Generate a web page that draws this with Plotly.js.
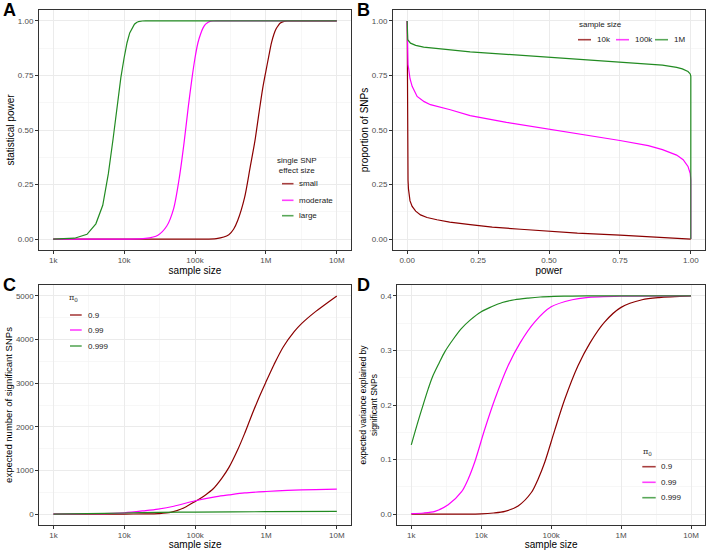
<!DOCTYPE html>
<html>
<head>
<meta charset="utf-8">
<script src="https://cdn.plot.ly/plotly-3.0.1.min.js"></script>
<style>html,body{margin:0;padding:0;background:#fff;}#chart{width:707px;height:550px;}</style>
</head>
<body>
<div id="chart"></div>
<script>
// ---------- shared labels / colours ----------
const sizeTickVals = [1e3, 1e4, 1e5, 1e6, 1e7];
const sizeTickText = ['1k', '10k', '100k', '1M', '10M'];
const seriesColors = ['#8B0000', '#FF00FF', '#228B22'];
const effectLabels = ['small', 'moderate', 'large'];
const sampleLabels = ['10k', '100k', '1M'];
const pi0Labels = ['0.9', '0.99', '0.999'];

// ---------- Panel A: statistical power vs sample size ----------
const powerN_small = [1000, 10000, 100000, 200000, 300000, 350000, 400000, 500000, 600000, 700000, 800000, 900000, 1000000, 1100000, 1200000, 1300000, 1400000, 1500000, 1600000, 1800000, 2000000, 5000000, 10000000];
const power_small  = [0, 0, 0, 0.002, 0.02, 0.045, 0.085, 0.19, 0.33, 0.45, 0.58, 0.69, 0.77, 0.84, 0.9, 0.94, 0.965, 0.98, 0.99, 0.998, 1, 1, 1];
const powerN_moderate = [1000, 10000, 20000, 30000, 40000, 50000, 60000, 70000, 80000, 90000, 100000, 110000, 120000, 130000, 140000, 150000, 160000, 180000, 200000, 1000000, 10000000];
const power_moderate  = [0, 0, 0.003, 0.018, 0.06, 0.14, 0.28, 0.44, 0.6, 0.73, 0.83, 0.9, 0.94, 0.968, 0.984, 0.992, 0.997, 0.9995, 1, 1, 1];
const powerN_large = [1000, 2000, 3000, 4000, 5000, 6000, 7000, 8000, 9000, 10000, 11000, 12000, 13000, 14000, 15000, 16000, 18000, 20000, 100000, 1000000, 10000000];
const power_large  = [0, 0.004, 0.022, 0.07, 0.155, 0.3, 0.46, 0.61, 0.74, 0.83, 0.9, 0.945, 0.97, 0.985, 0.993, 0.997, 0.9995, 1, 1, 1, 1];

// ---------- Panel B: proportion of SNPs vs power ----------
const bPower_10k = [0, 0.001, 0.002, 0.003, 0.0045, 0.0065, 0.01, 0.0175, 0.03, 0.047, 0.07, 0.105, 0.15, 0.222, 0.3, 0.4, 0.5, 0.6, 0.75, 0.9, 0.97, 1.0];
const bProp_10k  = [1.0, 0.5, 0.33, 0.27, 0.23, 0.2, 0.175, 0.15, 0.128, 0.111, 0.099, 0.0885, 0.078, 0.066, 0.055, 0.045, 0.035, 0.027, 0.018, 0.009, 0.004, 0.0];
const bPower_100k = [0, 0.0005, 0.0015, 0.003, 0.0058, 0.01, 0.0175, 0.035, 0.06, 0.082, 0.152, 0.222, 0.35, 0.5, 0.65, 0.75, 0.85, 0.9, 0.95, 0.973, 0.99, 0.998, 1.0, 1.0];
const bProp_100k  = [1.0, 0.9, 0.84, 0.8, 0.775, 0.735, 0.7, 0.654, 0.63, 0.616, 0.593, 0.566, 0.535, 0.505, 0.475, 0.452, 0.428, 0.41, 0.385, 0.364, 0.333, 0.3, 0.27, 0.0];
const bPower_1M = [0, 0.0003, 0.002, 0.0117, 0.03, 0.058, 0.128, 0.222, 0.35, 0.5, 0.65, 0.75, 0.85, 0.9, 0.95, 0.97, 0.99, 0.998, 1.0, 1.0];
const bProp_1M  = [1.0, 0.94, 0.914, 0.898, 0.888, 0.88, 0.872, 0.858, 0.847, 0.833, 0.82, 0.812, 0.803, 0.797, 0.787, 0.78, 0.768, 0.757, 0.746, 0.0];

// ---------- Panel C: expected number of significant SNPs ----------
const cN_09 = [1000, 3000, 10000, 20000, 30000, 45000, 70000, 100000, 140000, 180000, 240000, 300000, 400000, 500000, 600000, 800000, 1000000, 1300000, 1750000, 2500000, 3200000, 5000000, 10000000];
const cSig_09 = [0, 0, 1, 4, 11, 38, 145, 290, 440, 580, 830, 1070, 1480, 1850, 2180, 2680, 3030, 3430, 3830, 4180, 4370, 4640, 5000];
const cN_099 = [1000, 3000, 10000, 20000, 30000, 50000, 100000, 200000, 300000, 500000, 1000000, 2000000, 5000000, 10000000];
const cSig_099 = [0, 8, 30, 80, 115, 180, 305, 400, 440, 485, 518, 543, 562, 571];
const cN_0999 = [1000, 3000, 10000, 30000, 100000, 1000000, 10000000];
const cSig_0999 = [0, 10, 25, 38, 47, 55, 60];

// ---------- Panel D: expected variance explained ----------
const dN_09 = [1000, 10000, 15000, 21800, 33700, 52400, 65000, 81000, 112000, 156000, 242000, 360000, 580000, 1000000, 2000000, 3500000, 10000000];
const dVar_09 = [0, 0.0005, 0.002, 0.005, 0.015, 0.04, 0.064, 0.095, 0.153, 0.21, 0.272, 0.314, 0.352, 0.379, 0.393, 0.397, 0.4];
const dN_099 = [1000, 1500, 2180, 3370, 5240, 6500, 8100, 11200, 15600, 24200, 36000, 58000, 100000, 200000, 318000, 1000000, 10000000];
const dVar_099 = [0.001, 0.002, 0.005, 0.017, 0.041, 0.064, 0.096, 0.155, 0.21, 0.272, 0.314, 0.352, 0.38, 0.393, 0.397, 0.3995, 0.4];
const dN_0999 = [1000, 1250, 1500, 1750, 2000, 2500, 3000, 4000, 5200, 7000, 10000, 14000, 20000, 30000, 47000, 70000, 110000, 200000, 500000, 1000000, 10000000];
const dVar_0999 = [0.127, 0.17, 0.203, 0.23, 0.251, 0.277, 0.297, 0.321, 0.34, 0.356, 0.371, 0.38, 0.388, 0.393, 0.396, 0.398, 0.399, 0.3997, 0.4, 0.4, 0.4];

// ---------- helpers ----------
const W = 707, H = 550;
const FONT = 'Liberation Sans, Arial, sans-serif';
function px(x) { return x / W; }
function py(y) { return 1 - y / H; }
function mids(a) { const m = []; for (let i = 0; i < a.length - 1; i++) m.push((a[i] + a[i + 1]) / 2); return m; }
function gmids(a) { const m = []; for (let i = 0; i < a.length - 1; i++) m.push(Math.sqrt(a[i] * a[i + 1])); return m; }

function line(x, y, color, xa, ya, smooth) {
  const ln = { color: color, width: 1.2 };
  if (smooth) { ln.shape = 'spline'; ln.smoothing = 0.8; }
  return { x: x, y: y, type: 'scatter', mode: 'lines', xaxis: xa, yaxis: ya,
    line: ln, showlegend: false, hoverinfo: 'skip' };
}

const traces = [
  line(powerN_small, power_small, seriesColors[0], 'x', 'y', true),
  line(powerN_moderate, power_moderate, seriesColors[1], 'x', 'y', true),
  line(powerN_large, power_large, seriesColors[2], 'x', 'y', false),
  line(bPower_10k, bProp_10k, seriesColors[0], 'x2', 'y2', false),
  line(bPower_100k, bProp_100k, seriesColors[1], 'x2', 'y2', false),
  line(bPower_1M, bProp_1M, seriesColors[2], 'x2', 'y2', false),
  line(cN_09, cSig_09, seriesColors[0], 'x3', 'y3', true),
  line(cN_099, cSig_099, seriesColors[1], 'x3', 'y3', true),
  line(cN_0999, cSig_0999, seriesColors[2], 'x3', 'y3', true),
  line(dN_09, dVar_09, seriesColors[0], 'x4', 'y4', true),
  line(dN_099, dVar_099, seriesColors[1], 'x4', 'y4', true),
  line(dN_0999, dVar_0999, seriesColors[2], 'x4', 'y4', true)
];

function baseAxis(extra) {
  return Object.assign({
    showline: true, mirror: true, linecolor: '#333333', linewidth: 1,
    ticks: 'outside', ticklen: 3, tickcolor: '#333333', tickwidth: 1,
    showgrid: true, gridcolor: '#ebebeb', gridwidth: 1, zeroline: false,
    tickfont: { family: FONT, size: 8, color: '#4d4d4d' }, automargin: false,
    fixedrange: true
  }, extra);
}
function logX(domain, anchor) {
  return baseAxis({
    type: 'log', range: [2.8, 7.2], domain: domain, anchor: anchor,
    tickmode: 'array', tickvals: sizeTickVals, ticktext: sizeTickText,
    ticklabelstandoff: -1,
    minor: { tickmode: 'array', tickvals: gmids(sizeTickVals), showgrid: true, gridcolor: '#f2f2f2', gridwidth: 0.6, ticks: '' },
    title: { text: 'sample size', font: { family: FONT, size: 10, color: '#000' }, standoff: 1 }
  });
}
function linY(domain, anchor, range, vals, texts, title, tsize) {
  return baseAxis({
    range: range, domain: domain, anchor: anchor,
    tickmode: 'array', tickvals: vals, ticktext: texts,
    minor: { tickmode: 'array', tickvals: mids(vals), showgrid: true, gridcolor: '#f2f2f2', gridwidth: 0.6, ticks: '' },
    title: { text: title, font: { family: FONT, size: tsize, color: '#000' }, standoff: 1 }
  });
}

const topDom = [py(250), py(10)];
const botDom = [py(525), py(285)];
const yA = [0, 0.25, 0.5, 0.75, 1.0];
const yAtxt = ['0.00', '0.25', '0.50', '0.75', '1.00'];
const yC = [0, 1000, 2000, 3000, 4000, 5000];
const yD = [0, 0.1, 0.2, 0.3, 0.4];

const layout = {
  width: W, height: H,
  margin: { l: 0, r: 0, t: 0, b: 0 },
  paper_bgcolor: '#ffffff', plot_bgcolor: '#ffffff',
  showlegend: false,
  font: { family: FONT, color: '#000' },
  xaxis: logX([px(39), px(351)], 'y'),
  yaxis: linY(topDom, 'x', [-0.05, 1.05], yA, yAtxt, 'statistical power', 10),
  xaxis2: baseAxis({
    range: [-0.05, 1.05], domain: [px(393), px(705)], anchor: 'y2',
    tickmode: 'array', tickvals: yA, ticktext: yAtxt, ticklabelstandoff: -1,
    minor: { tickmode: 'array', tickvals: mids(yA), showgrid: true, gridcolor: '#f2f2f2', gridwidth: 0.6, ticks: '' },
    title: { text: 'power', font: { family: FONT, size: 10, color: '#000' }, standoff: 1 }
  }),
  yaxis2: linY(topDom, 'x2', [-0.05, 1.05], yA, yAtxt, 'proportion of SNPs', 10),
  xaxis3: logX([px(39.3), px(351)], 'y3'),
  yaxis3: linY(botDom, 'x3', [-250, 5250], yC, yC.map(String), 'expected number of significant SNPs', 9.5),
  xaxis4: logX([px(397.3), px(705)], 'y4'),
  yaxis4: linY(botDom, 'x4', [-0.02, 0.42], yD, yD.map(v => v.toFixed(1)), 'expected variance explained by<br>significant SNPs', 8.5),
  annotations: [],
  shapes: []
};

// panel letters
[['A', 0, 0], ['B', 354, 0], ['C', 0, 275], ['D', 354, 275]].forEach(function (p) {
  layout.annotations.push({ text: '<b>' + p[0] + '</b>', xref: 'paper', yref: 'paper',
    x: px(p[1] + 1), y: py(p[2] - 2), xanchor: 'left', yanchor: 'top', showarrow: false,
    font: { family: FONT, size: 18, color: '#000' } });
});

// legend builder (key line + label)
function addLegend(title, titleX, titleY, titleAnchor, titleFont, labels, keyX0, keyX1, textX, itemYs) {
  layout.annotations.push({ text: title, xref: 'paper', yref: 'paper', x: px(titleX), y: py(titleY),
    xanchor: titleAnchor, yanchor: 'middle', align: 'center', showarrow: false, font: titleFont });
  labels.forEach(function (lab, i) {
    const k0 = Array.isArray(keyX0) ? keyX0[i] : keyX0;
    const k1 = Array.isArray(keyX1) ? keyX1[i] : keyX1;
    const tx = Array.isArray(textX) ? textX[i] : textX;
    const yy = Array.isArray(itemYs) ? itemYs[i] : itemYs;
    layout.shapes.push({ type: 'line', xref: 'paper', yref: 'paper', x0: px(k0), x1: px(k1), y0: py(yy), y1: py(yy),
      line: { color: seriesColors[i], width: 1.6 }, opacity: 0.75 });
    layout.annotations.push({ text: lab, xref: 'paper', yref: 'paper', x: px(tx), y: py(yy),
      xanchor: 'left', yanchor: 'middle', showarrow: false,
      font: { family: FONT, size: 8, color: '#1a1a1a' } });
  });
}
const legTitleFont = { family: FONT, size: 8, color: '#1a1a1a' };
const piFont = { family: 'DejaVu Serif, serif', size: 8, color: '#333333' };

addLegend('single SNP<br>effect size', 297, 166, 'center', legTitleFont, effectLabels, 282, 293.5, 296.5, [183.7, 200.3, 215.7]);
addLegend('sample size', 576.5, 24.7, 'left', legTitleFont, sampleLabels, [578, 616, 655], [591, 629, 668], [594.5, 632.5, 671.5], 39.7);
addLegend('π<sub>0</sub>', 67, 298.3, 'left', piFont, pi0Labels, 70, 81.7, 86, [315, 330, 346]);
addLegend('π<sub>0</sub>', 640.5, 452.3, 'left', piFont, pi0Labels, 642.3, 655.7, 658.5, [466.7, 482.3, 497.7]);

Plotly.newPlot('chart', traces, layout, { staticPlot: true, displayModeBar: false });
</script>
</body>
</html>
